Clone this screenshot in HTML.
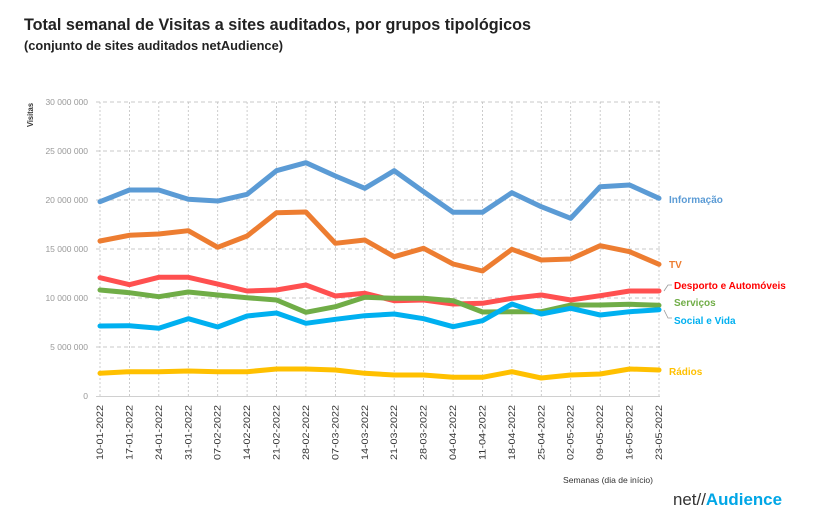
<!DOCTYPE html>
<html><head><meta charset="utf-8"><style>
html,body{margin:0;padding:0;background:#fff;}
svg{display:block;font-family:"Liberation Sans",sans-serif;}
</style></head><body>
<svg width="818" height="529" viewBox="0 0 818 529" xmlns="http://www.w3.org/2000/svg">
<text x="24" y="30" font-size="17" font-weight="bold" fill="#222" textLength="507" lengthAdjust="spacingAndGlyphs">Total semanal de Visitas a sites auditados, por grupos tipológicos</text>
<text x="24" y="50" font-size="13" font-weight="bold" fill="#222" textLength="259" lengthAdjust="spacingAndGlyphs">(conjunto de sites auditados netAudience)</text>
<text transform="translate(33,127) rotate(-90)" font-size="8" font-weight="bold" fill="#333" textLength="24" lengthAdjust="spacingAndGlyphs">Visitas</text>
<g stroke="#c8c8c8" stroke-width="1" stroke-dasharray="4,3">
<line x1="96" y1="102" x2="660" y2="102"/><line x1="96" y1="151" x2="660" y2="151"/><line x1="96" y1="200" x2="660" y2="200"/><line x1="96" y1="249" x2="660" y2="249"/><line x1="96" y1="298" x2="660" y2="298"/><line x1="96" y1="347" x2="660" y2="347"/>
</g>
<g stroke="#c0c0c0" stroke-width="0.8" stroke-dasharray="2,2">
<line x1="100" y1="102" x2="100" y2="396"/><line x1="129.4" y1="102" x2="129.4" y2="396"/><line x1="158.8" y1="102" x2="158.8" y2="396"/><line x1="188.3" y1="102" x2="188.3" y2="396"/><line x1="217.7" y1="102" x2="217.7" y2="396"/><line x1="247.1" y1="102" x2="247.1" y2="396"/><line x1="276.5" y1="102" x2="276.5" y2="396"/><line x1="305.9" y1="102" x2="305.9" y2="396"/><line x1="335.4" y1="102" x2="335.4" y2="396"/><line x1="364.8" y1="102" x2="364.8" y2="396"/><line x1="394.2" y1="102" x2="394.2" y2="396"/><line x1="423.6" y1="102" x2="423.6" y2="396"/><line x1="453.1" y1="102" x2="453.1" y2="396"/><line x1="482.5" y1="102" x2="482.5" y2="396"/><line x1="511.9" y1="102" x2="511.9" y2="396"/><line x1="541.3" y1="102" x2="541.3" y2="396"/><line x1="570.7" y1="102" x2="570.7" y2="396"/><line x1="600.2" y1="102" x2="600.2" y2="396"/><line x1="629.6" y1="102" x2="629.6" y2="396"/><line x1="659" y1="102" x2="659" y2="396"/>
</g>
<line x1="96" y1="396.5" x2="660" y2="396.5" stroke="#d0d0d0" stroke-width="1"/>
<g font-size="8.5" fill="#999" text-anchor="end">
<text x="88" y="105">30 000 000</text><text x="88" y="154">25 000 000</text><text x="88" y="203">20 000 000</text><text x="88" y="252">15 000 000</text><text x="88" y="301">10 000 000</text><text x="88" y="350">5 000 000</text><text x="88" y="399">0</text>
</g>
<g font-size="9" fill="#333" text-anchor="end">
<text transform="translate(103,405) rotate(-90)" textLength="55" lengthAdjust="spacingAndGlyphs">10-01-2022</text>
<text transform="translate(132.4,405) rotate(-90)" textLength="55" lengthAdjust="spacingAndGlyphs">17-01-2022</text>
<text transform="translate(161.8,405) rotate(-90)" textLength="55" lengthAdjust="spacingAndGlyphs">24-01-2022</text>
<text transform="translate(191.3,405) rotate(-90)" textLength="55" lengthAdjust="spacingAndGlyphs">31-01-2022</text>
<text transform="translate(220.7,405) rotate(-90)" textLength="55" lengthAdjust="spacingAndGlyphs">07-02-2022</text>
<text transform="translate(250.1,405) rotate(-90)" textLength="55" lengthAdjust="spacingAndGlyphs">14-02-2022</text>
<text transform="translate(279.5,405) rotate(-90)" textLength="55" lengthAdjust="spacingAndGlyphs">21-02-2022</text>
<text transform="translate(308.9,405) rotate(-90)" textLength="55" lengthAdjust="spacingAndGlyphs">28-02-2022</text>
<text transform="translate(338.4,405) rotate(-90)" textLength="55" lengthAdjust="spacingAndGlyphs">07-03-2022</text>
<text transform="translate(367.8,405) rotate(-90)" textLength="55" lengthAdjust="spacingAndGlyphs">14-03-2022</text>
<text transform="translate(397.2,405) rotate(-90)" textLength="55" lengthAdjust="spacingAndGlyphs">21-03-2022</text>
<text transform="translate(426.6,405) rotate(-90)" textLength="55" lengthAdjust="spacingAndGlyphs">28-03-2022</text>
<text transform="translate(456.1,405) rotate(-90)" textLength="55" lengthAdjust="spacingAndGlyphs">04-04-2022</text>
<text transform="translate(485.5,405) rotate(-90)" textLength="55" lengthAdjust="spacingAndGlyphs">11-04-2022</text>
<text transform="translate(514.9,405) rotate(-90)" textLength="55" lengthAdjust="spacingAndGlyphs">18-04-2022</text>
<text transform="translate(544.3,405) rotate(-90)" textLength="55" lengthAdjust="spacingAndGlyphs">25-04-2022</text>
<text transform="translate(573.7,405) rotate(-90)" textLength="55" lengthAdjust="spacingAndGlyphs">02-05-2022</text>
<text transform="translate(603.2,405) rotate(-90)" textLength="55" lengthAdjust="spacingAndGlyphs">09-05-2022</text>
<text transform="translate(632.6,405) rotate(-90)" textLength="55" lengthAdjust="spacingAndGlyphs">16-05-2022</text>
<text transform="translate(662,405) rotate(-90)" textLength="55" lengthAdjust="spacingAndGlyphs">23-05-2022</text>
</g>
<g fill="none" stroke-width="5" stroke-linejoin="round" stroke-linecap="round">
<polyline stroke="#5B9BD5" points="100,201.7 129.4,190 158.8,190 188.3,199.3 217.7,201 247.1,194.3 276.5,170.7 305.9,162.7 335.4,176 364.8,188.3 394.2,170.7 423.6,191.7 453.1,212.3 482.5,212.3 511.9,192.7 541.3,206.7 570.7,218.3 600.2,186.7 629.6,185 659,198.3"/>
<polyline stroke="#ED7D31" points="100,241 129.4,235.3 158.8,234 188.3,230.7 217.7,247.3 247.1,236 276.5,212.7 305.9,212 335.4,243.3 364.8,240 394.2,256.7 423.6,248.3 453.1,264 482.5,271 511.9,249.3 541.3,260 570.7,259 600.2,245.7 629.6,251.7 659,264.3"/>
<polyline stroke="#FFC000" points="100,373.3 129.4,371.7 158.8,371.7 188.3,371 217.7,371.7 247.1,371.7 276.5,369 305.9,369 335.4,370 364.8,373.3 394.2,375 423.6,375 453.1,377.3 482.5,377.3 511.9,371.7 541.3,378 570.7,375 600.2,374 629.6,369 659,370"/>
<polyline stroke="#FF5050" points="100,277.7 129.4,284.7 158.8,277.3 188.3,277.3 217.7,284 247.1,291 276.5,290 305.9,285 335.4,296 364.8,293.3 394.2,300.7 423.6,300 453.1,304 482.5,303.3 511.9,298.3 541.3,295 570.7,300 600.2,295.7 629.6,291 659,291"/>
<polyline stroke="#70AD47" points="100,290 129.4,292.7 158.8,296.7 188.3,292 217.7,295 247.1,297.7 276.5,300 305.9,312.3 335.4,306.7 364.8,297.3 394.2,298.3 423.6,298.3 453.1,300.7 482.5,312 511.9,311.7 541.3,311.7 570.7,305 600.2,305 629.6,304.3 659,305.3"/>
<polyline stroke="#00B0F0" points="100,326 129.4,325.7 158.8,328.3 188.3,318.7 217.7,327 247.1,316 276.5,313 305.9,323.3 335.4,319.3 364.8,315.7 394.2,314 423.6,318.7 453.1,326.7 482.5,320.7 511.9,304 541.3,314 570.7,308.3 600.2,315 629.6,311.7 659,309.7"/>
</g>
<g stroke="#999" stroke-width="0.8" fill="none">
<polyline points="664,291 668,285 672,285"/>
<polyline points="664,310 668,318 672,318"/>
</g>
<g font-size="10" font-weight="bold">
<text x="669" y="203" fill="#5B9BD5">Informação</text>
<text x="669" y="268" fill="#ED7D31">TV</text>
<text x="674" y="289" fill="#FF0000">Desporto e Automóveis</text>
<text x="674" y="306" fill="#70AD47">Serviços</text>
<text x="674" y="324" fill="#00B0F0">Social e Vida</text>
<text x="669" y="375" fill="#FFC000">Rádios</text>
</g>
<text x="563" y="483" font-size="8.5" fill="#333" textLength="90" lengthAdjust="spacingAndGlyphs">Semanas  (dia de início)</text>
<text x="673" y="505" font-size="17" textLength="109" lengthAdjust="spacingAndGlyphs"><tspan fill="#333">net//</tspan><tspan fill="#00A6E6" font-weight="bold">Audience</tspan></text>
</svg>
</body></html>
